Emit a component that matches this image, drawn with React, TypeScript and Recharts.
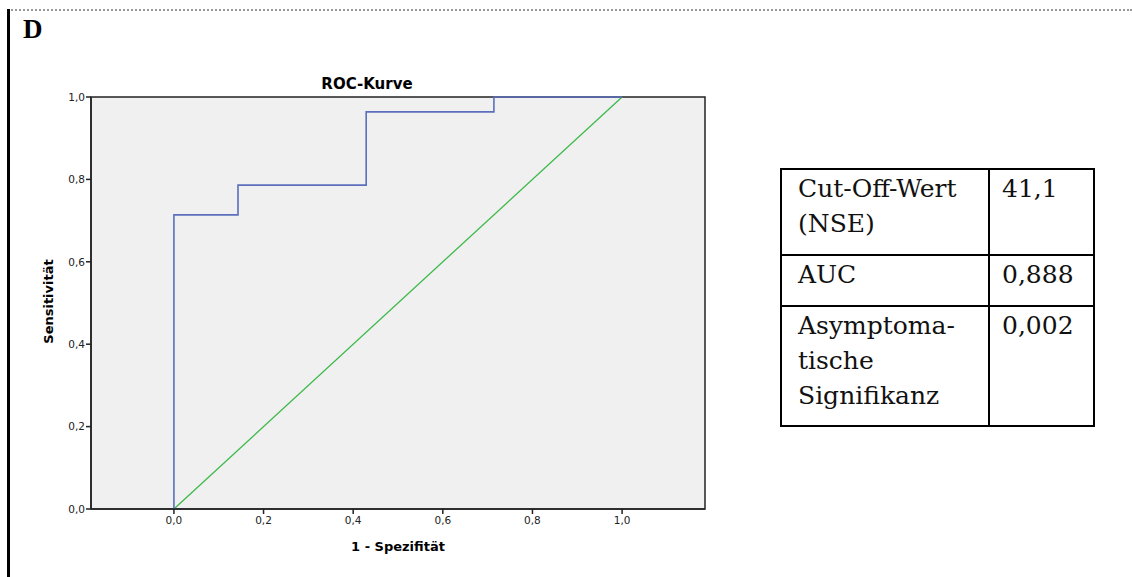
import React from "react";
import { LineChart, Line, XAxis, YAxis, ReferenceArea } from "recharts";

const rocX = [0, 0, 0.143, 0.143, 0.429, 0.429, 0.714, 0.714, 1.0];
const rocY = [0, 0.714, 0.714, 0.786, 0.786, 0.964, 0.964, 1.0, 1.0];
const diagX = [0, 1];
const diagY = [0, 1];
const ticks = [0, 0.2, 0.4, 0.6, 0.8, 1.0];
const xDomain = [-0.185, 1.185];
const tableLabels = ["Cut-Off-Wert\n(NSE)", "AUC", "Asymptoma-\ntische\nSignifikanz"];
const tableValues = ["41,1", "0,888", "0,002"];

const rocData = rocX.map((x, i) => ({ x, y: rocY[i] }));
const diagData = diagX.map((x, i) => ({ x, y: diagY[i] }));
const fmt = (v: number) => v.toFixed(1).replace(".", ",");

const sans = "DejaVu Sans, Arial, sans-serif";
const axisFont = { fontFamily: sans, fontSize: 10.5, fill: "#222" };
const rowHeights = [86, 51, 120];

export default function App() {
  return (
    <div style={{ position: "absolute", left: 0, top: 0, width: 1132, height: 577, background: "#fff", overflow: "hidden" }}>
      <div style={{ position: "absolute", left: 8, top: 9, width: 1124, height: 0, borderTop: "2px dotted #999" }} />
      <div style={{ position: "absolute", left: 7, top: 9, width: 3, height: 568, background: "#000" }} />
      <div style={{ position: "absolute", left: 23, top: 14, fontFamily: "Liberation Serif, Times New Roman, serif", fontWeight: "bold", fontSize: 27 }}>D</div>
      <div style={{ position: "absolute", left: 267, width: 200, top: 75, textAlign: "center", fontFamily: sans, fontWeight: "bold", fontSize: 15 }}>ROC-Kurve</div>
      <div style={{ position: "absolute", left: 298, width: 200, top: 539, textAlign: "center", fontFamily: sans, fontWeight: "bold", fontSize: 13 }}>1 - Spezifität</div>
      <div style={{ position: "absolute", left: 48, top: 303, width: 0, height: 0 }}>
        <div style={{ position: "absolute", left: -100, top: -9, width: 200, textAlign: "center", transform: "rotate(-90deg)", fontFamily: sans, fontWeight: "bold", fontSize: 13 }}>Sensitivität</div>
      </div>
      <div style={{ position: "absolute", left: 0, top: 0 }}>
        <LineChart width={720} height={577} margin={{ top: 97, right: 15, bottom: 0, left: 0 }}>
          <XAxis
            dataKey="x"
            type="number"
            domain={xDomain}
            ticks={ticks}
            tickFormatter={fmt}
            allowDataOverflow
            height={68}
            tick={axisFont}
            tickSize={5}
            tickMargin={3}
            axisLine={{ stroke: "#222", strokeWidth: 1.5 }}
            tickLine={{ stroke: "#222", strokeWidth: 1.5 }}
          />
          <YAxis
            dataKey="y"
            type="number"
            domain={[0, 1]}
            ticks={ticks}
            tickFormatter={fmt}
            width={91}
            tick={axisFont}
            tickSize={5}
            tickMargin={1}
            axisLine={{ stroke: "#222", strokeWidth: 1.5 }}
            tickLine={{ stroke: "#222", strokeWidth: 1.5 }}
          />
          <ReferenceArea x1={xDomain[0]} x2={xDomain[1]} y1={0} y2={1} fill="#f0f0f0" fillOpacity={1} stroke="#222" strokeWidth={1.5} />
          <Line data={diagData} dataKey="y" type="linear" stroke="#3cb94a" strokeWidth={1.3} dot={false} isAnimationActive={false} />
          <Line data={rocData} dataKey="y" type="linear" stroke="#5b6fbd" strokeWidth={1.6} dot={false} isAnimationActive={false} />
        </LineChart>
      </div>
      <table style={{ position: "absolute", left: 780, top: 168, width: 315, height: 258, borderCollapse: "collapse", fontFamily: "DejaVu Serif, serif", fontSize: 25, color: "#111", lineHeight: "35px" }}>
        <tbody>
          {tableLabels.map((label, i) => (
            <tr key={i} style={{ height: rowHeights[i] }}>
              <td style={{ border: "2px solid #000", width: 190, verticalAlign: "top", padding: "1px 0 0 16px", whiteSpace: "pre-line" }}>{label}</td>
              <td style={{ border: "2px solid #000", verticalAlign: "top", padding: "1px 0 0 12px" }}>{tableValues[i]}</td>
            </tr>
          ))}
        </tbody>
      </table>
    </div>
  );
}
